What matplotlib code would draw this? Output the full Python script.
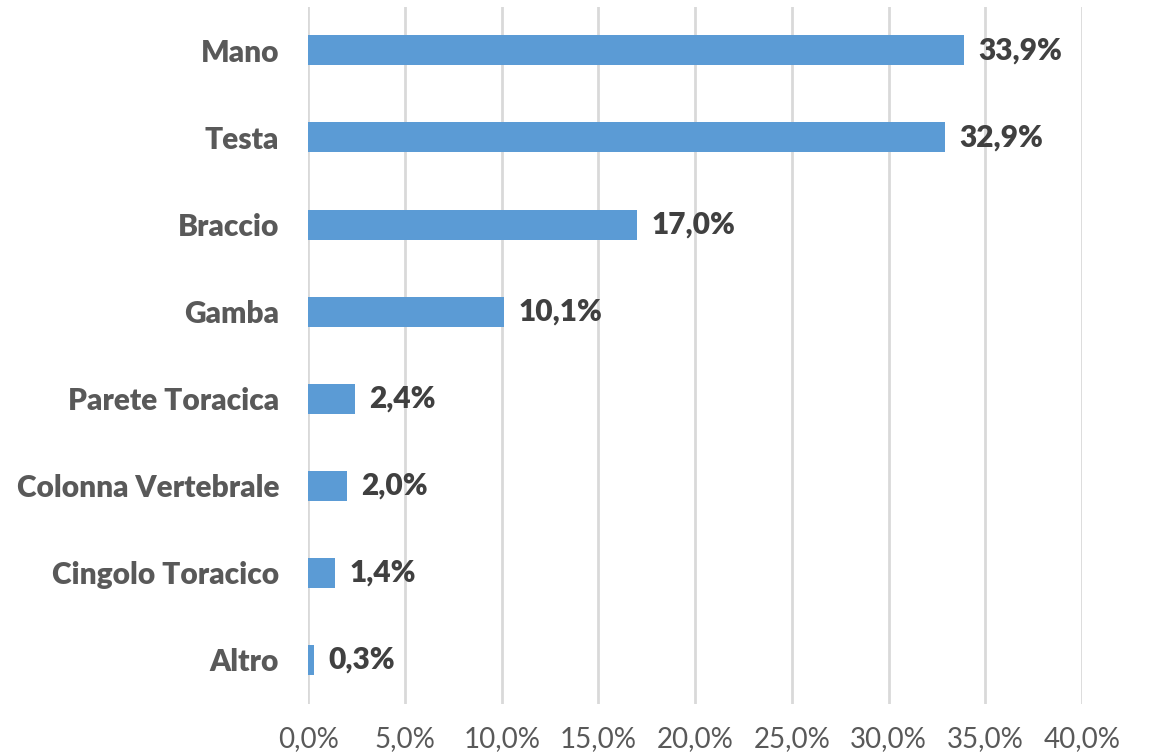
import numpy as np
import matplotlib
matplotlib.use("Agg")
import matplotlib.pyplot as plt
from matplotlib.ticker import FuncFormatter

# body parts and share of injuries (%)
categories = ["Mano", "Testa", "Braccio", "Gamba", "Parete Toracica",
              "Colonna Vertebrale", "Cingolo Toracico", "Altro"]
values = [33.9, 32.9, 17.0, 10.1, 2.4, 2.0, 1.4, 0.3]
xticks = [0, 5, 10, 15, 20, 25, 30, 35, 40]

plt.rcParams['font.family'] = ['Lato', 'DejaVu Sans']

fig = plt.figure(figsize=(11.5, 7.56), dpi=100)
ax = fig.add_axes([0.268, 0.0694, 0.673, 0.9216])

y = np.arange(len(categories))
ax.barh(y, values, height=0.345, color='#5B9BD5', zorder=3)

for yi, v in zip(y, values):
    ax.text(v + 0.75, yi, f"{v:.1f}%".replace('.', ','), va='center', ha='left',
            fontsize=21.5, fontweight='heavy', color='#404040')

ax.set_xlim(0, 40)
ax.set_ylim(len(categories) - 0.5, -0.5)
ax.set_xticks(xticks)
ax.xaxis.set_major_formatter(FuncFormatter(lambda v, p: f"{v:.1f}%".replace('.', ',')))
ax.set_yticks(y)
ax.set_yticklabels(categories, fontsize=21.5, fontweight='heavy', color='#595959')
ax.tick_params(axis='x', labelsize=20, colors='#595959', length=0, pad=16)
ax.tick_params(axis='y', length=0, pad=21)
ax.grid(axis='x', color='#D9D9D9', linewidth=2, zorder=0)
for s in ax.spines.values():
    s.set_visible(False)

fig.savefig("out.png", dpi=100)
